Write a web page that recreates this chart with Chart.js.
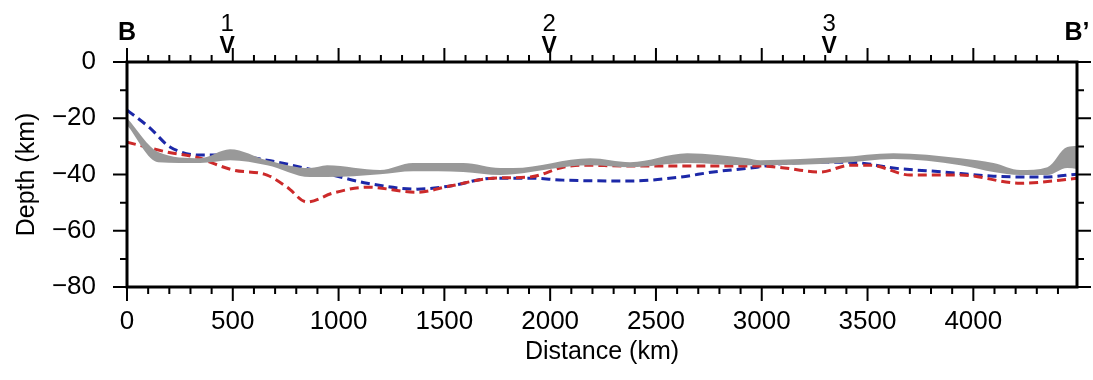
<!DOCTYPE html>
<html>
<head>
<meta charset="utf-8">
<script src="https://cdn.jsdelivr.net/npm/chart.js@4.4.1/dist/chart.umd.min.js"></script>
<style>
  html, body { margin: 0; padding: 0; background: #fff; }
  #wrap { width: 1093px; height: 380px; }
</style>
</head>
<body>
<div id="wrap"><canvas id="profileChart"></canvas></div>
<script>
// profile B - B' : distance along profile (km) vs depth (km)
const xMax = 4490;
const xTicks = [0, 500, 1000, 1500, 2000, 2500, 3000, 3500, 4000];
const yTicks = [-80, -60, -40, -20, 0];

// grey band (upper / lower edge)
const bandKm     = [0, 147, 345, 487, 662, 865, 946, 1196, 1352, 1589, 1764, 1825, 2189, 2378, 2648, 2931, 2993, 3371, 3622, 3939, 4095, 4222, 4350, 4444, 4490];
const bandTop    = [-19.9, -32, -34.2, -31, -34.9, -37.7, -36.7, -38.4, -35.9, -35.9, -37.7, -37.7, -34.2, -35.6, -32.4, -34.2, -34.9, -33.8, -32.4, -34.2, -35.9, -38.4, -37.4, -30.2, -29.9];
const bandBottom = [-22.4, -35.6, -35.9, -34.9, -36.7, -40.9, -40.9, -39.9, -38.8, -39.1, -40.2, -39.9, -36.7, -37.4, -35.9, -36.7, -36.7, -35.9, -34.5, -36.7, -39.1, -40.2, -40.2, -37.7, -38];

// blue dashed line
const blueKm    = [0, 109, 203, 345, 473, 662, 879, 1135, 1371, 1527, 1730, 1905, 2061, 2378, 2615, 2771, 2979, 3073, 3310, 3466, 3622, 3858, 4095, 4331, 4490];
const blueDepth = [-17.1, -23.5, -30.2, -33.1, -33.1, -34.9, -38.4, -43.1, -45.2, -44.1, -41.3, -41.3, -42, -42.3, -40.9, -39.1, -37.4, -36.3, -35.6, -35.9, -37.7, -39.1, -40.6, -40.9, -39.9];

// red dashed line
const redKm    = [0, 189, 345, 392, 501, 662, 757, 851, 974, 1135, 1371, 1527, 1730, 1905, 2061, 2142, 2378, 2990, 3087, 3277, 3418, 3513, 3702, 3939, 4222, 4459, 4490];
const redDepth = [-28.5, -32, -34.2, -35.6, -38.4, -40.2, -44.5, -49.8, -46.6, -44.5, -46.3, -44.1, -41.3, -40.9, -37.4, -36.7, -37, -37, -37.5, -39.1, -36.7, -36.7, -40.2, -40.2, -43.1, -41.6, -41.3];

// stations marked on top axis
const stationKm = [473, 1995, 3319];
const stationLabels = ['1', '2', '3'];
const endLabels = ['B', 'B\u2019'];

const pts = (xs, ys) => xs.map((x, i) => ({ x: x, y: ys[i] }));
const FONT = '"Liberation Sans", Arial, sans-serif';

const framePlugin = {
  id: 'gmtFrame',
  afterDraw(chart) {
    const c = chart.ctx;
    const a = chart.chartArea;
    const xs = chart.scales.x, ys = chart.scales.y;
    c.save();
    c.strokeStyle = '#000';
    c.lineCap = 'butt';
    // ticks
    c.lineWidth = 2;
    c.beginPath();
    for (let v = 0; v <= xMax; v += 100) {
      const px = xs.getPixelForValue(v);
      const len = v % 500 === 0 ? 14 : 7;
      c.moveTo(px, a.bottom); c.lineTo(px, a.bottom + len);
      c.moveTo(px, a.top); c.lineTo(px, a.top - len);
    }
    for (let v = -80; v <= 0; v += 10) {
      const py = ys.getPixelForValue(v);
      const len = v % 20 === 0 ? 14 : 7;
      c.moveTo(a.left, py); c.lineTo(a.left - len, py);
      c.moveTo(a.right, py); c.lineTo(a.right + len, py);
    }
    c.stroke();
    // frame
    c.lineWidth = 3;
    c.strokeRect(a.left, a.top, a.right - a.left, a.bottom - a.top);

    // top labels
    c.fillStyle = '#000';
    c.textAlign = 'center';
    c.textBaseline = 'middle';
    c.font = 'bold 25px ' + FONT;
    c.fillText(endLabels[0], xs.getPixelForValue(0), 33);
    c.fillText(endLabels[1], xs.getPixelForValue(xMax), 33);
    stationKm.forEach((km, i) => {
      const px = xs.getPixelForValue(km);
      c.font = '24px ' + FONT;
      c.fillText(stationLabels[i], px, 24);
      c.font = 'bold 23px ' + FONT;
      c.fillText('V', px, 47);
    });
    c.restore();
  }
};

new Chart(document.getElementById('profileChart').getContext('2d'), {
  type: 'line',
  data: {
    datasets: [
      {
        label: 'band top',
        data: pts(bandKm, bandTop),
        borderWidth: 0,
        pointRadius: 0,
        backgroundColor: '#999999',
        fill: '+1',
        tension: 0.4,
        cubicInterpolationMode: 'monotone'
      },
      {
        label: 'band bottom',
        data: pts(bandKm, bandBottom),
        borderWidth: 0,
        pointRadius: 0,
        fill: false,
        tension: 0.4,
        cubicInterpolationMode: 'monotone'
      },
      {
        label: 'red',
        data: pts(redKm, redDepth),
        borderColor: '#cc2a2a',
        borderWidth: 3,
        borderDash: [9, 5],
        pointRadius: 0,
        fill: false,
        cubicInterpolationMode: 'monotone'
      },
      {
        label: 'blue',
        data: pts(blueKm, blueDepth),
        borderColor: '#1c28a8',
        borderWidth: 3,
        borderDash: [9, 5],
        pointRadius: 0,
        fill: false,
        cubicInterpolationMode: 'monotone'
      }
    ]
  },
  options: {
    responsive: true,
    maintainAspectRatio: false,
    animation: false,
    layout: { padding: { top: 62, right: 16, left: 0, bottom: 0 } },
    plugins: {
      legend: { display: false },
      tooltip: { enabled: false }
    },
    scales: {
      x: {
        type: 'linear',
        position: 'bottom',
        min: 0,
        max: xMax,
        afterBuildTicks: (s) => { s.ticks = xTicks.map(v => ({ value: v })); },
        afterFit: (s) => { s.height = 93; },
        grid: { display: false, drawTicks: false },
        border: { display: false },
        ticks: {
          color: '#000',
          padding: 19,
          maxRotation: 0,
          font: { family: FONT, size: 26 },
          callback: (v) => String(v)
        },
        title: {
          display: true,
          text: 'Distance (km)',
          color: '#000',
          padding: { top: 0, bottom: 13 },
          font: { family: FONT, size: 25 }
        }
      },
      y: {
        min: -80,
        max: 0,
        afterBuildTicks: (s) => { s.ticks = yTicks.map(v => ({ value: v })); },
        afterFit: (s) => { s.width = 127; },
        grid: { display: false, drawTicks: false },
        border: { display: false },
        ticks: {
          color: '#000',
          padding: 31,
          font: { family: FONT, size: 26 },
          callback: (v) => (v < 0 ? '\u2212' + Math.abs(v) : String(v))
        },
        title: {
          display: true,
          text: 'Depth (km)',
          color: '#000',
          padding: { top: 12, bottom: 0 },
          font: { family: FONT, size: 25 }
        }
      }
    }
  },
  plugins: [framePlugin]
});
</script>
</body>
</html>
